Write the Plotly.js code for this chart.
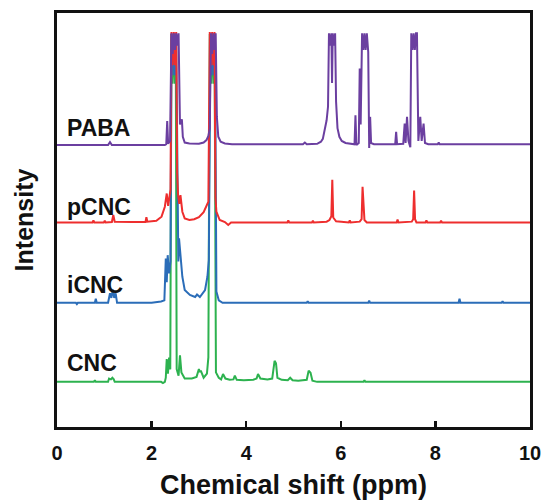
<!DOCTYPE html>
<html>
<head>
<meta charset="utf-8">
<script src="https://cdn.plot.ly/plotly-3.0.1.min.js"></script>
<style>html,body{margin:0;padding:0;background:#fff}#chart{width:543px;height:500px}</style>
</head>
<body>
<div id="chart"></div>
<script>
// [ppm, intensity above own baseline] (tall peaks shown as clipped)
const pabaPoints = [[0,0],[1.08,0],[1.12,0.7],[1.16,0],[2.28,0],[2.31,0.2],[2.33,5.8],[2.35,0.3],[2.39,1.0],[2.42,27],[2.445,22],[2.47,27],[2.495,23],[2.52,27],[2.545,24],[2.57,27],[2.60,5],[2.62,6],[2.64,6.2],[2.66,2],[2.70,0.6],[2.8,0.4],[3.0,0.3],[3.1,0.6],[3.16,1.2],[3.2,2.2],[3.23,4],[3.255,27],[3.28,22],[3.305,27],[3.33,23],[3.355,27],[3.38,6.8],[3.41,2],[3.46,0.8],[3.55,0.4],[3.7,0.2],[4.5,0.2],[5.2,0.2],[5.24,0.6],[5.28,0.2],[5.5,0.3],[5.58,0.8],[5.62,1.5],[5.66,4.1],[5.70,6],[5.73,9.3],[5.75,27],[5.775,24],[5.80,27],[5.815,15],[5.83,27],[5.855,24],[5.88,27],[5.90,10.5],[5.93,4.1],[5.97,2],[6.02,1.0],[6.1,0.5],[6.2,0.3],[6.29,0.2],[6.31,7.2],[6.33,0],[6.38,0.5],[6.40,18.5],[6.42,5],[6.45,27],[6.475,23],[6.50,27],[6.525,23],[6.55,27],[6.58,22.5],[6.60,-0.7],[6.62,6.8],[6.64,0.5],[6.70,0.2],[6.8,0.2],[7.1,0.2],[7.15,0.2],[7.17,3.2],[7.19,0.2],[7.32,0.3],[7.35,5.2],[7.37,0.5],[7.40,6.8],[7.43,1],[7.47,-0.5],[7.49,27],[7.515,23],[7.54,27],[7.565,23],[7.59,27],[7.61,27],[7.64,1],[7.68,6.8],[7.71,1.0],[7.75,5.2],[7.78,0.5],[7.85,0.2],[8.05,0.2],[8.07,0.6],[8.09,0.2],[10,0.2]];

const pcncPoints = [[0,0],[0.75,0],[0.77,0.5],[0.79,0],[0.99,0],[1.01,0.4],[1.03,0],[1.16,0.1],[1.19,1.8],[1.22,0.2],[1.6,0.1],[1.87,0.1],[1.89,1.3],[1.91,0.2],[2.1,0.4],[2.21,1.4],[2.28,3.8],[2.32,7],[2.35,4],[2.37,5.9],[2.40,8],[2.42,46],[2.445,38],[2.47,46],[2.495,38],[2.52,46],[2.54,12],[2.56,6.6],[2.585,4.5],[2.61,6.6],[2.65,2.6],[2.70,1.0],[2.8,0.6],[2.9,0.8],[3.0,1.3],[3.1,2.5],[3.17,4],[3.2,5],[3.23,46],[3.255,38],[3.28,46],[3.305,38],[3.33,46],[3.35,6],[3.37,2.6],[3.44,0.6],[3.55,0.1],[3.62,-0.6],[3.68,0],[4.5,0],[4.87,0],[4.89,0.5],[4.91,0],[5.39,0],[5.41,0.4],[5.43,0],[5.70,0.2],[5.76,0.6],[5.80,1.5],[5.82,10.3],[5.84,1.2],[5.9,0.3],[6.17,0],[6.19,0.5],[6.21,0],[6.40,0.2],[6.44,0.8],[6.46,8.6],[6.48,3.8],[6.50,0.6],[6.55,0],[7.18,0],[7.2,0.7],[7.22,0],[7.50,0.2],[7.53,0.8],[7.55,7.7],[7.57,0.8],[7.6,0],[7.79,0],[7.81,0.5],[7.83,0],[8.1,0],[8.12,0.4],[8.14,0],[10,0]];

const icncPoints = [[0,0],[0.4,0],[0.42,-0.3],[0.44,0],[0.8,0],[0.82,1.0],[0.84,0],[1.08,0],[1.12,2.3],[1.15,1.2],[1.18,3.2],[1.21,1.2],[1.24,2.3],[1.27,0],[2.0,0],[2.2,0.3],[2.27,0.6],[2.30,10.7],[2.32,5],[2.34,11.5],[2.37,7.1],[2.40,10],[2.42,65],[2.445,55],[2.47,65],[2.495,55],[2.52,65],[2.55,15.6],[2.565,10],[2.58,15.6],[2.61,11.9],[2.65,6.3],[2.70,3.1],[2.81,1.9],[2.92,1.4],[2.96,2.0],[3.02,1.4],[3.13,3.1],[3.18,6.3],[3.21,10.3],[3.245,65],[3.27,55],[3.295,65],[3.32,55],[3.34,65],[3.37,2.7],[3.42,0.6],[3.5,0],[5.28,0],[5.3,0.4],[5.32,0],[6.58,0],[6.6,0.5],[6.62,0],[8.49,0],[8.51,1.0],[8.53,0],[9.4,0],[9.42,0.4],[9.44,0],[10,0]];

const cncPoints = [[0,0],[0.78,0],[0.8,0.4],[0.82,0],[1.08,0],[1.1,0.8],[1.14,0.6],[1.17,1.0],[1.2,0.6],[1.22,0],[2.2,0],[2.24,-0.3],[2.28,0],[2.30,1],[2.32,5.5],[2.345,2],[2.37,5.9],[2.395,3],[2.42,84],[2.445,72],[2.47,84],[2.495,72],[2.51,84],[2.53,3.1],[2.57,1.5],[2.60,6.4],[2.63,2.3],[2.7,0.8],[2.85,0.8],[2.95,1.2],[3.0,3.1],[3.02,2.4],[3.04,2.7],[3.1,1.0],[3.17,2],[3.2,5.9],[3.23,84],[3.255,72],[3.28,84],[3.305,72],[3.33,84],[3.36,2.3],[3.42,1.0],[3.47,0.6],[3.51,1.9],[3.56,0.8],[3.65,0.5],[3.73,0.6],[3.76,1.5],[3.8,0.5],[3.95,0.4],[4.05,0.5],[4.15,0.5],[4.22,0.8],[4.25,1.9],[4.3,0.8],[4.45,0.6],[4.55,0.8],[4.6,5.1],[4.63,4.5],[4.66,1.0],[4.75,0.5],[4.88,0.4],[4.93,1.0],[4.98,0.4],[5.1,0.3],[5.2,0.4],[5.28,0.5],[5.32,2.7],[5.36,2.2],[5.40,0.3],[5.5,0],[6.48,0],[6.5,0.4],[6.52,0],[10,0]];

const seriesNames = ['CNC', 'iCNC', 'pCNC', 'PABA'];
const seriesPoints = [cncPoints, icncPoints, pcncPoints, pabaPoints];
const baselineOffsets = [10.9, 30.0, 49.4, 68.1];
const seriesColors = ['#2db24f', '#2b6db8', '#ee2e2e', '#6b3fa0'];
const xTickVals = [0, 2, 4, 6, 8, 10];
const xTickText = ['0', '2', '4', '6', '8', '10'];
const labelY = [15.5, 34.3, 53.1, 72.2];

const FONT = 'Liberation Sans, Arial, sans-serif';

const traces = seriesPoints.map((pts, i) => ({
  type: 'scatter', mode: 'lines', name: seriesNames[i],
  x: pts.map(p => p[0]),
  y: pts.map(p => p[1] + baselineOffsets[i]),
  line: {color: seriesColors[i], width: 2},
  hoverinfo: 'skip'
}));

const annotations = seriesNames.map((n, i) => ({
  text: n, x: 0.17, y: labelY[i], xref: 'x', yref: 'y',
  xanchor: 'left', yanchor: 'middle', showarrow: false,
  font: {family: FONT, size: 23, color: '#111', weight: 'bold'}
}));

const layout = {
  width: 543, height: 500,
  margin: {l: 57, r: 13, t: 13, b: 73},
  paper_bgcolor: '#fff', plot_bgcolor: '#fff',
  showlegend: false,
  xaxis: {
    range: [0, 10], tickvals: xTickVals, ticktext: xTickText,
    ticks: 'inside', ticklen: 6, tickwidth: 2.5, tickcolor: '#111',
    ticklabelstandoff: 6,
    showline: true, linewidth: 3, linecolor: '#111', mirror: true,
    showgrid: false, zeroline: false,
    tickfont: {family: FONT, size: 20, color: '#111', weight: 'bold'},
    title: {text: 'Chemical shift (ppm)', standoff: 13,
            font: {family: FONT, size: 27, color: '#111', weight: 'bold'}}
  },
  yaxis: {
    range: [0, 100], showticklabels: false, ticks: '',
    showline: true, linewidth: 3, linecolor: '#111', mirror: true,
    showgrid: false, zeroline: false,
    title: {text: 'Intensity', standoff: 14,
            font: {family: FONT, size: 25, color: '#111', weight: 'bold'}}
  },
  annotations: annotations
};

Plotly.newPlot('chart', traces, layout, {displayModeBar: false, staticPlot: true});
</script>
</body>
</html>
